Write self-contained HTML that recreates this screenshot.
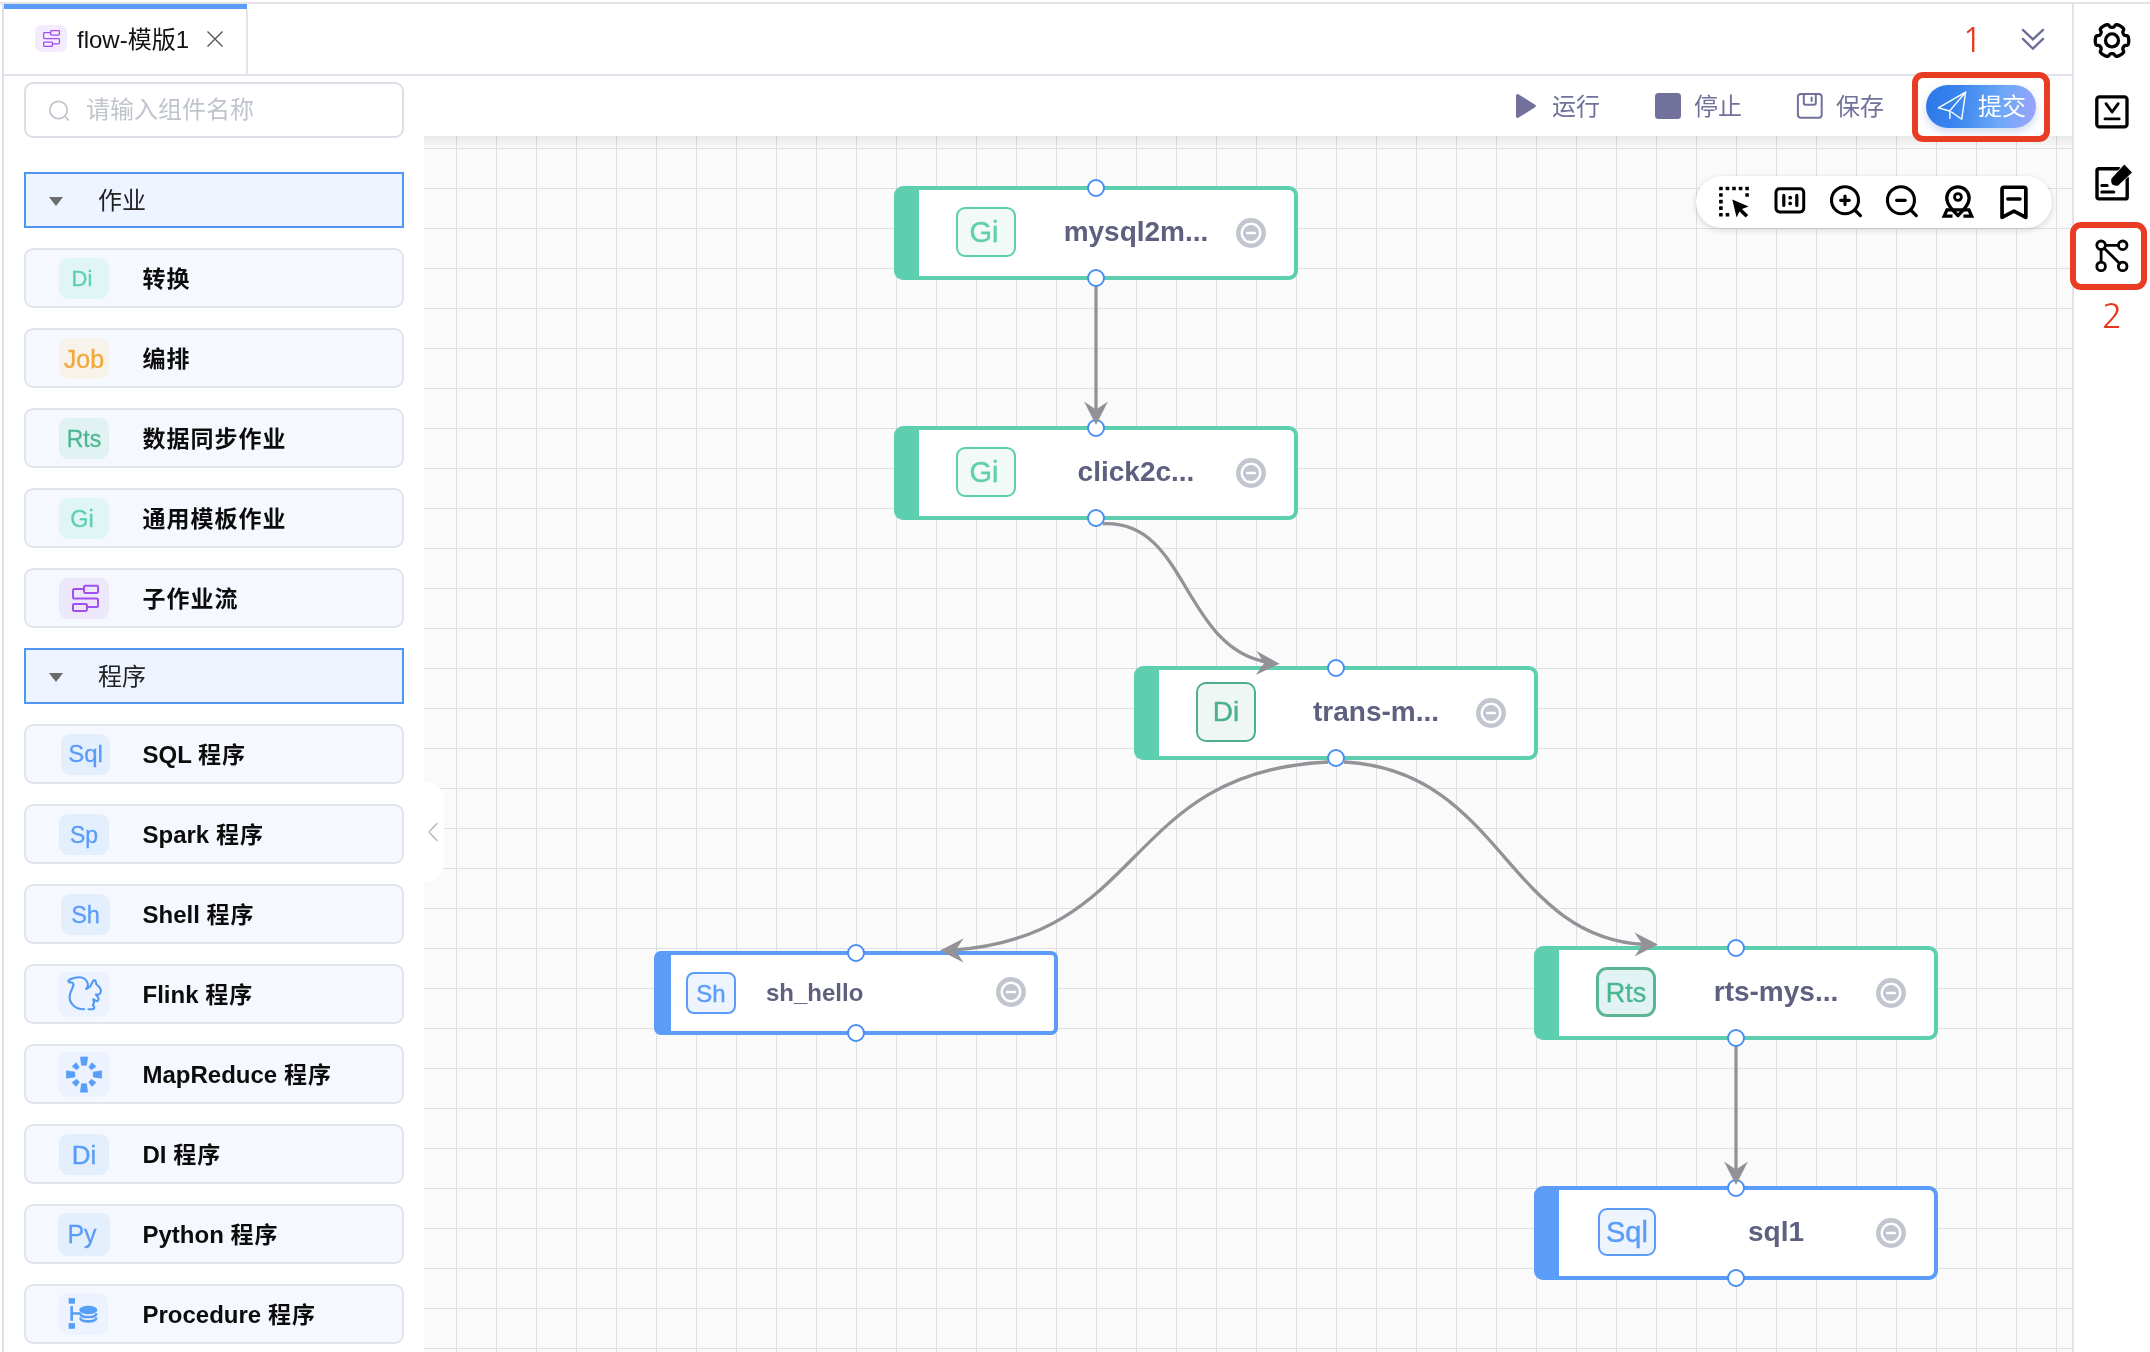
<!DOCTYPE html>
<html lang="zh-CN">
<head>
<meta charset="utf-8">
<title>flow-模版1</title>
<style>
*{box-sizing:border-box;margin:0;padding:0}
html,body{width:2150px;height:1352px;overflow:hidden;background:#fff}
body{position:relative;font-family:"Liberation Sans","Noto Sans CJK SC",sans-serif;color:#1a1a1a}
.abs{position:absolute}
/* frame lines */
#topline{left:0;top:2px;width:2150px;height:2px;background:#e3e3e6}
#leftline{left:2px;top:4px;width:2px;height:1348px;background:#dfdfe6}
#tabbar-b{left:4px;top:74px;width:2069px;height:2px;background:#e1e3ea}
#tab-top{left:4px;top:4px;width:243px;height:5px;background:#5a9cf8}
#tab-r{left:246px;top:9px;width:2px;height:65px;background:#e4e5ea}
#rside-l{left:2072px;top:4px;width:2px;height:1348px;background:#e1e2ea}
/* canvas */
#canvas{left:424px;top:136px;width:1648px;height:1216px;background-color:#fafafa;overflow:hidden;
 background-image:linear-gradient(to right,#dbe0e3 0,#dbe0e3 1px,transparent 1px),linear-gradient(to bottom,#dbe0e3 0,#dbe0e3 1px,transparent 1px);
 background-size:40px 40px;background-position:32px 12px}
#canvas-shadow{left:424px;top:136px;width:1648px;height:12px;background:linear-gradient(to bottom,rgba(0,0,0,.07),rgba(0,0,0,0))}

/* sidebar */
#tabicon{left:35px;top:25px;width:32px;height:27px;border-radius:7px;background:#f4ebfe}
#tabtext{left:77px;top:24px;font-size:24px;line-height:32px;color:#111;white-space:nowrap}
#search{left:24px;top:82px;width:380px;height:56px;border:2px solid #dcdfe6;border-radius:9px;background:#fff}
#search .ph{position:absolute;left:60px;top:0;line-height:51px;font-size:24px;color:#c0c4cc;white-space:nowrap}
.hdr{position:absolute;left:24px;width:380px;height:56px;border:2px solid #4f95f5;background:#eef4ff}
.hdr .tri{position:absolute;left:22.5px;top:23px;width:0;height:0;border-left:7.5px solid transparent;border-right:7.5px solid transparent;border-top:9px solid #6b6b6b}
.hdr .t{position:absolute;left:72px;top:0;line-height:53px;font-size:24px;color:#222}
.item{position:absolute;left:24px;width:380px;height:60px;border:2px solid #e1e4ed;border-radius:9px;background:#f5f9ff}
.item .ic{-webkit-text-stroke:.3px currentColor;position:absolute;left:33px;top:8px;width:50px;height:41px;border-radius:9px;font-size:25px;text-align:center;line-height:42px;white-space:nowrap}
.item .lb{position:absolute;left:116.5px;top:1px;line-height:56px;font-size:24px;font-weight:700;color:#0c0c0c;white-space:nowrap}
.g1{color:#5ecfae;background:#e0f5f5}
.g2{color:#4db690;background:#e0f2f2}
.or{color:#f0a93a;background:#f7f2ea}
.pu{background:#ece7fb}
.bl{color:#5a9cf8;background:#e3effd}
.item .bl2{background:#edf3fe;left:32px;top:6px;width:52px;height:45px;border-radius:10px}
#handle{left:424px;top:782px;width:20px;height:100px;background:#fff;border-radius:0 18px 18px 0}

/* toolbar */
.tbt{position:absolute;top:91px;font-size:24px;line-height:32px;color:#71719b;white-space:nowrap}
#submit{left:1926px;top:85px;width:110px;height:43px;border-radius:22px;background:linear-gradient(100deg,#2a77e8 0%,#3a85ee 30%,#6ea8f7 68%,#9ea3fb 100%);box-shadow:0 4px 9px rgba(90,120,200,.28)}
#submit .t{position:absolute;left:52px;top:6px;font-size:24px;line-height:32px;color:#fff;white-space:nowrap}
.red{position:absolute;border:6px solid #e83c23;border-radius:11px}
.rednum{position:absolute;font-family:"NanumGothic","Liberation Sans",sans-serif;font-weight:400;font-size:33.5px;line-height:40px;color:#e8391f;white-space:nowrap}
#pill{left:1696px;top:176px;width:356px;height:52px;border-radius:26px;background:#fff;box-shadow:0 2px 6px rgba(0,0,0,.14),0 0 2px rgba(0,0,0,.05)}
#ov{left:0;top:0}

/* flow nodes */
.node{position:absolute;width:404px;height:94px;border:4px solid #5ecfae;border-radius:9px;background:#fff}
.node .bar{position:absolute;left:-1px;top:-1px;bottom:-1px;width:22px;background:#5ecfae}
.node .ib{-webkit-text-stroke:.4px currentColor;position:absolute;left:58px;top:16.5px;width:60px;height:50px;border:2px solid #5ecfae;border-radius:9px;background:#f1faf7;color:#5ecfae;font-size:29px;line-height:46px;text-align:center;white-space:nowrap}
.node .nl{position:absolute;left:118px;width:240px;top:0;line-height:83px;text-align:center;font-size:28px;font-weight:700;color:#5e6080;white-space:nowrap}
.node.b{border-color:#5a9cf8}
.node.b .bar{background:#5a9cf8}
.node.b .ib{border-color:#5a9cf8;color:#5a9cf8;background:#edf4fe}
.node.sm{height:84px;border-radius:7px}
.node.sm .bar{width:14px}
.node.sm .ib{left:28px;top:17px;width:50px;height:42px;font-size:24px;line-height:39px;border-radius:8px}
.node.sm .nl{left:108px;width:auto;text-align:left;font-size:24px;line-height:75px}
.port{position:absolute;width:18px;height:18px;border:2px solid #4a90f0;border-radius:50%;background:#fff}
.mc{position:absolute;width:30px;height:30px}
.cj{font-size:23px;letter-spacing:1px;position:relative;top:-.5px}
</style>
</head>
<body><div id="root" style="position:absolute;left:0;top:0;width:2150px;height:1352px;will-change:transform">
<div class="abs" id="topline"></div>
<div class="abs" id="leftline"></div>
<div class="abs" id="tabbar-b"></div>
<div class="abs" id="tab-top"></div>
<div class="abs" id="tab-r"></div>
<div class="abs" id="canvas"></div>
<div class="abs" id="canvas-shadow"></div>
<div class="abs" id="rside-l"></div>
<div class="abs" id="tabicon"></div>
<div class="abs" id="tabtext">flow-模版1</div>
<svg class="abs" style="left:206px;top:30px" width="18" height="18" viewBox="0 0 18 18" stroke="#555" stroke-width="1.4" fill="none"><path d="M1.5 1.5 16.5 16.5M16.5 1.5 1.5 16.5"/></svg>
<div class="abs" id="search"><svg class="abs" style="left:22px;top:15px" width="24" height="24" viewBox="0 0 24 24" fill="none" stroke="#c0c4cc" stroke-width="1.7" stroke-linecap="round"><circle cx="10.5" cy="11" r="8.7"/><path d="M17 17.5 20.5 21"/></svg><div class="ph">请输入组件名称</div></div>
<div class="hdr" style="top:172px"><div class="tri"></div><div class="t">作业</div></div>
<div class="item" style="top:248px"><div class="ic g1" style="font-size:22px;padding-right:4px">Di</div><div class="lb"><span class="cj">转换</span></div></div>
<div class="item" style="top:328px"><div class="ic or">Job</div><div class="lb"><span class="cj">编排</span></div></div>
<div class="item" style="top:408px"><div class="ic g2" style="font-size:23px">Rts</div><div class="lb"><span class="cj">数据同步作业</span></div></div>
<div class="item" style="top:488px"><div class="ic g1" style="font-size:23.500px;padding-right:4px">Gi</div><div class="lb"><span class="cj">通用模板作业</span></div></div>
<div class="item" style="top:568px"><div class="ic pu"></div><div class="lb"><span class="cj">子作业流</span></div></div>
<div class="hdr" style="top:648px"><div class="tri"></div><div class="t">程序</div></div>
<div class="item" style="top:724px"><div class="ic bl" style="font-size:24px;left:35px;width:49px;line-height:40px">Sql</div><div class="lb">SQL <span class="cj">程序</span></div></div>
<div class="item" style="top:804px"><div class="ic bl" style="font-size:23px">Sp</div><div class="lb">Spark <span class="cj">程序</span></div></div>
<div class="item" style="top:884px"><div class="ic bl" style="font-size:23.500px;left:35px;width:49px">Sh</div><div class="lb">Shell <span class="cj">程序</span></div></div>
<div class="item" style="top:964px"><div class="ic bl2"></div><div class="lb">Flink <span class="cj">程序</span></div></div>
<div class="item" style="top:1044px"><div class="ic bl2"></div><div class="lb">MapReduce <span class="cj">程序</span></div></div>
<div class="item" style="top:1124px"><div class="ic bl" style="font-size:26px">Di</div><div class="lb">DI <span class="cj">程序</span></div></div>
<div class="item" style="top:1204px"><div class="ic bl" style="font-size:25px;left:32px;top:6.500px;width:52px;height:43px;line-height:42px;padding-right:4px">Py</div><div class="lb">Python <span class="cj">程序</span></div></div>
<div class="item" style="top:1284px"><div class="ic bl2" style="width:50px;height:42.500px;top:6.500px"></div><div class="lb">Procedure <span class="cj">程序</span></div></div>
<div class="abs" id="handle"><svg class="abs" style="left:3px;top:40px" width="12" height="20" viewBox="0 0 12 20" fill="none" stroke="#b3b3b8" stroke-width="1.3" stroke-linecap="round" stroke-linejoin="round"><path d="M10 1.5 2 10l8 8.5"/></svg></div>
<!--SIDEBAR-END-->
<div class="tbt" style="left:1552px">运行</div>
<div class="tbt" style="left:1694px">停止</div>
<div class="tbt" style="left:1836px">保存</div>
<div class="abs" id="submit"><div class="t">提交</div></div>
<div class="red" style="left:1912px;top:71.5px;width:138px;height:70px"></div>
<div class="rednum" style="left:1962px;top:19.5px">1</div>
<div class="abs" id="pill"></div>
<!--TOOLBAR-END-->
<div class="node " style="left:894px;top:186px"><div class="bar"></div><div class="ib" style="padding-right:4px">Gi</div><div class="nl">mysql2m...</div><svg class="mc" style="left:338px;top:28px" viewBox="0 0 30 30"><circle cx="15" cy="15" r="12.75" fill="none" stroke="#c2c5cf" stroke-width="4.5"/><circle cx="15" cy="15" r="8" fill="#c2c5cf"/><rect x="10" y="13.8" width="10" height="2.4" rx=".6" fill="#fff"/></svg></div>
<div class="node " style="left:894px;top:426px"><div class="bar"></div><div class="ib" style="padding-right:4px">Gi</div><div class="nl">click2c...</div><svg class="mc" style="left:338px;top:28px" viewBox="0 0 30 30"><circle cx="15" cy="15" r="12.75" fill="none" stroke="#c2c5cf" stroke-width="4.5"/><circle cx="15" cy="15" r="8" fill="#c2c5cf"/><rect x="10" y="13.8" width="10" height="2.4" rx=".6" fill="#fff"/></svg></div>
<div class="node " style="left:1134px;top:666px"><div class="bar"></div><div class="ib" style="border-color:#4db08c;color:#4db08c;background:#eff7f4;top:12px;height:60px;line-height:56px;border-radius:10px;font-size:28px">Di</div><div class="nl">trans-m...</div><svg class="mc" style="left:338px;top:28px" viewBox="0 0 30 30"><circle cx="15" cy="15" r="12.75" fill="none" stroke="#c2c5cf" stroke-width="4.5"/><circle cx="15" cy="15" r="8" fill="#c2c5cf"/><rect x="10" y="13.8" width="10" height="2.4" rx=".6" fill="#fff"/></svg></div>
<div class="node b sm" style="left:654px;top:951px"><div class="bar"></div><div class="ib">Sh</div><div class="nl">sh_hello</div><svg class="mc" style="left:338px;top:22px" viewBox="0 0 30 30"><circle cx="15" cy="15" r="12.75" fill="none" stroke="#c2c5cf" stroke-width="4.5"/><circle cx="15" cy="15" r="8" fill="#c2c5cf"/><rect x="10" y="13.8" width="10" height="2.4" rx=".6" fill="#fff"/></svg></div>
<div class="node " style="left:1534px;top:946px"><div class="bar"></div><div class="ib" style="border:3px solid #5bb595;color:#4db690;background:#e2f3f6;line-height:46px;border-radius:11px;font-size:27px">Rts</div><div class="nl">rts-mys...</div><svg class="mc" style="left:338px;top:28px" viewBox="0 0 30 30"><circle cx="15" cy="15" r="12.75" fill="none" stroke="#c2c5cf" stroke-width="4.5"/><circle cx="15" cy="15" r="8" fill="#c2c5cf"/><rect x="10" y="13.8" width="10" height="2.4" rx=".6" fill="#fff"/></svg></div>
<div class="node b" style="left:1534px;top:1186px"><div class="bar"></div><div class="ib" style="left:60px;top:17.500px;width:58px;height:48px;line-height:44px">Sql</div><div class="nl">sql1</div><svg class="mc" style="left:338px;top:28px" viewBox="0 0 30 30"><circle cx="15" cy="15" r="12.75" fill="none" stroke="#c2c5cf" stroke-width="4.5"/><circle cx="15" cy="15" r="8" fill="#c2c5cf"/><rect x="10" y="13.8" width="10" height="2.4" rx=".6" fill="#fff"/></svg></div>
<!--FLOW-END-->
<div class="port" style="left:1087px;top:419px"></div>
<div class="port" style="left:1727px;top:1179px"></div>
<svg class="abs" id="ov" width="2150" height="1352" viewBox="0 0 2150 1352" fill="none">
<path d="M1517.5 95.5 L1534.3 106 L1517.5 116.5 Z" fill="#71719b" stroke="#71719b" stroke-width="3" stroke-linejoin="round"/>
<rect x="1655" y="93" width="26" height="26" rx="3.5" fill="#71719b"/>
<g stroke="#71719b" stroke-width="2" stroke-linecap="round" stroke-linejoin="round"><rect x="1797.9" y="94.1" width="23.8" height="23.6" rx="3"/><path d="M1803.8 94.5V103a1.8 1.8 0 0 0 1.8 1.8h8.4a1.8 1.8 0 0 0 1.8-1.8V94.5M1811.6 97.6V101"/></g>
<g stroke="#fff" stroke-width="1.4" stroke-linecap="round" stroke-linejoin="round"><path d="M1965.6 92.2 1938.4 107.9 1949.6 111"/><path d="M1965.6 92.2 1949.9 110.6V118.2"/><path d="M1951.5 112 1961.7 119.3 1965.6 92.2"/></g>
<g stroke="#6c6c98" stroke-width="2.3" stroke-linecap="round" stroke-linejoin="miter"><path d="M2022.9 29.9 2032.900 39.400 2043 29.900"/><path d="M2022.900 38.900 2032.900 48.700 2043 38.900"/></g>
<g stroke="#000" stroke-width="3" stroke-linecap="round" stroke-linejoin="round">
<rect x="1719.10" y="186.70" width="3.6" height="3.6" rx=".5" fill="#000" stroke="none"/>
<rect x="1725.65" y="186.70" width="3.6" height="3.6" rx=".5" fill="#000" stroke="none"/>
<rect x="1732.20" y="186.70" width="3.6" height="3.6" rx=".5" fill="#000" stroke="none"/>
<rect x="1738.75" y="186.70" width="3.6" height="3.6" rx=".5" fill="#000" stroke="none"/>
<rect x="1745.30" y="186.70" width="3.6" height="3.6" rx=".5" fill="#000" stroke="none"/>
<rect x="1719.10" y="193.25" width="3.6" height="3.6" rx=".5" fill="#000" stroke="none"/>
<rect x="1719.10" y="199.80" width="3.6" height="3.6" rx=".5" fill="#000" stroke="none"/>
<rect x="1719.10" y="206.35" width="3.6" height="3.6" rx=".5" fill="#000" stroke="none"/>
<rect x="1719.10" y="212.90" width="3.6" height="3.6" rx=".5" fill="#000" stroke="none"/>
<rect x="1725.65" y="212.90" width="3.6" height="3.6" rx=".5" fill="#000" stroke="none"/>
<rect x="1745.30" y="193.25" width="3.6" height="3.6" rx=".5" fill="#000" stroke="none"/>
<path d="M1732.3 199.6 1748.6 206.4 1742 208.9 1748.2 215.1 1745.6 217.6 1739.4 211.4 1736.6 217.6Z" fill="#000" stroke="none"/>
<rect x="1776" y="188.7" width="27.7" height="23.2" rx="3.6"/>
<path d="M1783.8 195.400V205.500M1796.800 195.400V205.500" stroke-width="3.2"/>
<circle cx="1790.2" cy="197.700" r="1.850" fill="#000" stroke="none"/><circle cx="1790.200" cy="203.400" r="1.850" fill="#000" stroke="none"/>
<circle cx="1845" cy="200.200" r="13.500" stroke-width="3.100"/><path d="M1854.8 210 1860.400 215.600M1840.700 200.300H1849.300M1845 196V204.600" stroke-width="3.200"/>
<circle cx="1900.95" cy="200.200" r="13.500" stroke-width="3.100"/><path d="M1910.7 210 1916.300 215.600M1896.600 200.300H1905.300" stroke-width="3.200"/>
<path d="M1952.5 216.200H1944.200L1947 209.800H1968.900L1971.700 216.200H1963.400" stroke-width="3.300" stroke-linejoin="miter" stroke-linecap="butt"/>
<path d="M1957.95 215.500C1952.500 210 1946.750 204.500 1946.750 198a11.200 11.200 0 0 1 22.400 0C1969.150 204.500 1963.400 210 1957.950 215.500Z" stroke-width="3.300"/>
<circle cx="1957.95" cy="197" r="3.450" stroke-width="2.800"/>
<path d="M2002.05 217.300V189.250a2 2 0 0 1 2-2h19.800a2 2 0 0 1 2 2V217.300L2013.950 211.100Z" stroke-width="3.700"/><path d="M2007.8 199H2020" stroke-width="3.400"/>
</g>
<g stroke="#000" stroke-width="3.3" stroke-linecap="round" stroke-linejoin="round">
<path d="M2128.70 40.50 L2128.70 40.21 L2128.69 39.92 L2128.68 39.63 L2128.66 39.34 L2128.64 39.04 L2128.61 38.75 L2128.57 38.47 L2128.53 38.18 L2128.49 37.89 L2128.43 37.60 L2128.37 37.32 L2128.29 37.04 L2128.19 36.76 L2128.06 36.50 L2127.87 36.25 L2127.60 36.03 L2127.22 35.85 L2126.72 35.72 L2126.15 35.63 L2125.60 35.55 L2125.12 35.46 L2124.75 35.35 L2124.47 35.21 L2124.25 35.05 L2124.08 34.87 L2123.93 34.68 L2123.79 34.49 L2123.67 34.30 L2123.55 34.10 L2123.43 33.90 L2123.32 33.70 L2123.21 33.50 L2123.10 33.29 L2123.00 33.08 L2122.91 32.86 L2122.85 32.62 L2122.82 32.35 L2122.84 32.03 L2122.93 31.65 L2123.09 31.20 L2123.30 30.68 L2123.50 30.14 L2123.64 29.65 L2123.67 29.23 L2123.62 28.88 L2123.50 28.59 L2123.33 28.35 L2123.14 28.12 L2122.94 27.91 L2122.73 27.72 L2122.50 27.53 L2122.28 27.34 L2122.05 27.16 L2121.82 26.99 L2121.58 26.82 L2121.34 26.66 L2121.10 26.49 L2120.85 26.34 L2120.60 26.19 L2120.35 26.04 L2120.10 25.89 L2119.84 25.75 L2119.58 25.62 L2119.32 25.49 L2119.06 25.37 L2118.79 25.25 L2118.52 25.13 L2118.25 25.02 L2117.98 24.92 L2117.71 24.82 L2117.43 24.73 L2117.15 24.66 L2116.86 24.61 L2116.56 24.59 L2116.25 24.63 L2115.93 24.75 L2115.58 25.00 L2115.22 25.36 L2114.86 25.81 L2114.51 26.25 L2114.20 26.62 L2113.91 26.88 L2113.65 27.05 L2113.40 27.16 L2113.16 27.23 L2112.93 27.26 L2112.69 27.28 L2112.46 27.29 L2112.23 27.30 L2112.00 27.30 L2111.77 27.30 L2111.54 27.29 L2111.31 27.28 L2111.07 27.26 L2110.84 27.23 L2110.60 27.16 L2110.35 27.05 L2110.09 26.88 L2109.80 26.62 L2109.49 26.25 L2109.14 25.81 L2108.78 25.36 L2108.42 25.00 L2108.07 24.75 L2107.75 24.63 L2107.44 24.59 L2107.14 24.61 L2106.85 24.66 L2106.57 24.73 L2106.29 24.82 L2106.02 24.92 L2105.75 25.02 L2105.48 25.13 L2105.21 25.25 L2104.94 25.37 L2104.68 25.49 L2104.42 25.62 L2104.16 25.75 L2103.90 25.89 L2103.65 26.04 L2103.40 26.19 L2103.15 26.34 L2102.90 26.49 L2102.66 26.66 L2102.42 26.82 L2102.18 26.99 L2101.95 27.16 L2101.72 27.34 L2101.50 27.53 L2101.27 27.72 L2101.06 27.91 L2100.86 28.12 L2100.67 28.35 L2100.50 28.59 L2100.38 28.88 L2100.33 29.23 L2100.36 29.65 L2100.50 30.14 L2100.70 30.68 L2100.91 31.20 L2101.07 31.65 L2101.16 32.03 L2101.18 32.35 L2101.15 32.62 L2101.09 32.86 L2101.00 33.08 L2100.90 33.29 L2100.79 33.50 L2100.68 33.70 L2100.57 33.90 L2100.45 34.10 L2100.33 34.30 L2100.21 34.49 L2100.07 34.68 L2099.92 34.87 L2099.75 35.05 L2099.53 35.21 L2099.25 35.35 L2098.88 35.46 L2098.40 35.55 L2097.85 35.63 L2097.28 35.72 L2096.78 35.85 L2096.40 36.03 L2096.13 36.25 L2095.94 36.50 L2095.81 36.76 L2095.71 37.04 L2095.63 37.32 L2095.57 37.60 L2095.51 37.89 L2095.47 38.18 L2095.43 38.47 L2095.39 38.75 L2095.36 39.04 L2095.34 39.34 L2095.32 39.63 L2095.31 39.92 L2095.30 40.21 L2095.30 40.50 L2095.30 40.79 L2095.31 41.08 L2095.32 41.37 L2095.34 41.66 L2095.36 41.96 L2095.39 42.25 L2095.43 42.53 L2095.47 42.82 L2095.51 43.11 L2095.57 43.40 L2095.63 43.68 L2095.71 43.96 L2095.81 44.24 L2095.94 44.50 L2096.13 44.75 L2096.40 44.97 L2096.78 45.15 L2097.28 45.28 L2097.85 45.37 L2098.40 45.45 L2098.88 45.54 L2099.25 45.65 L2099.53 45.79 L2099.75 45.95 L2099.92 46.13 L2100.07 46.32 L2100.21 46.51 L2100.33 46.70 L2100.45 46.90 L2100.57 47.10 L2100.68 47.30 L2100.79 47.50 L2100.90 47.71 L2101.00 47.92 L2101.09 48.14 L2101.15 48.38 L2101.18 48.65 L2101.16 48.97 L2101.07 49.35 L2100.91 49.80 L2100.70 50.32 L2100.50 50.86 L2100.36 51.35 L2100.33 51.77 L2100.38 52.12 L2100.50 52.41 L2100.67 52.65 L2100.86 52.88 L2101.06 53.09 L2101.27 53.28 L2101.50 53.47 L2101.72 53.66 L2101.95 53.84 L2102.18 54.01 L2102.42 54.18 L2102.66 54.34 L2102.90 54.51 L2103.15 54.66 L2103.40 54.81 L2103.65 54.96 L2103.90 55.11 L2104.16 55.25 L2104.42 55.38 L2104.68 55.51 L2104.94 55.63 L2105.21 55.75 L2105.48 55.87 L2105.75 55.98 L2106.02 56.08 L2106.29 56.18 L2106.57 56.27 L2106.85 56.34 L2107.14 56.39 L2107.44 56.41 L2107.75 56.37 L2108.07 56.25 L2108.42 56.00 L2108.78 55.64 L2109.14 55.19 L2109.49 54.75 L2109.80 54.38 L2110.09 54.12 L2110.35 53.95 L2110.60 53.84 L2110.84 53.77 L2111.07 53.74 L2111.31 53.72 L2111.54 53.71 L2111.77 53.70 L2112.00 53.70 L2112.23 53.70 L2112.46 53.71 L2112.69 53.72 L2112.93 53.74 L2113.16 53.77 L2113.40 53.84 L2113.65 53.95 L2113.91 54.12 L2114.20 54.38 L2114.51 54.75 L2114.86 55.19 L2115.22 55.64 L2115.58 56.00 L2115.93 56.25 L2116.25 56.37 L2116.56 56.41 L2116.86 56.39 L2117.15 56.34 L2117.43 56.27 L2117.71 56.18 L2117.98 56.08 L2118.25 55.98 L2118.52 55.87 L2118.79 55.75 L2119.06 55.63 L2119.32 55.51 L2119.58 55.38 L2119.84 55.25 L2120.10 55.11 L2120.35 54.96 L2120.60 54.81 L2120.85 54.66 L2121.10 54.51 L2121.34 54.34 L2121.58 54.18 L2121.82 54.01 L2122.05 53.84 L2122.28 53.66 L2122.50 53.47 L2122.73 53.28 L2122.94 53.09 L2123.14 52.88 L2123.33 52.65 L2123.50 52.41 L2123.62 52.12 L2123.67 51.77 L2123.64 51.35 L2123.50 50.86 L2123.30 50.32 L2123.09 49.80 L2122.93 49.35 L2122.84 48.97 L2122.82 48.65 L2122.85 48.38 L2122.91 48.14 L2123.00 47.92 L2123.10 47.71 L2123.21 47.50 L2123.32 47.30 L2123.43 47.10 L2123.55 46.90 L2123.67 46.70 L2123.79 46.51 L2123.93 46.32 L2124.08 46.13 L2124.25 45.95 L2124.47 45.79 L2124.75 45.65 L2125.12 45.54 L2125.60 45.45 L2126.15 45.37 L2126.72 45.28 L2127.22 45.15 L2127.60 44.97 L2127.87 44.75 L2128.06 44.50 L2128.19 44.24 L2128.29 43.96 L2128.37 43.68 L2128.43 43.40 L2128.49 43.11 L2128.53 42.82 L2128.57 42.53 L2128.61 42.25 L2128.64 41.96 L2128.66 41.66 L2128.68 41.37 L2128.69 41.08 L2128.70 40.79Z"/>
<circle cx="2112" cy="40.4" r="6.5"/>
<rect x="2096.8" y="96.8" width="30.2" height="30.1" rx="2.6"/><path d="M2106 103.700 2112.100 112 2118.200 103.700M2105 118.9H2119.200" stroke-width="2.9"/>
<path d="M2127.2 178V197.200a1.700 1.700 0 0 1-1.700 1.700H2098.700a1.700 1.700 0 0 1-1.700-1.700V170.400a1.700 1.700 0 0 1 1.700-1.700H2119" stroke-width="3.4"/>
<path d="M2101.8 185.400H2107.200M2101.800 191.900H2113.800" stroke-width="3"/>
<path d="M2111.8 178.300 2124.300 164.500 2132 172.400 2118.100 185.500Q2116.500 186.300 2112.300 184.500Q2110.300 181 2111.800 178.300Z" fill="#000" stroke="#fff" stroke-width="1.3" stroke-linejoin="miter" paint-order="stroke"/>
<g stroke-width="2.8"><circle cx="2101.1" cy="245.3" r="4.3"/><circle cx="2122.7" cy="245.3" r="4.3"/><circle cx="2101.1" cy="266.4" r="4.3"/><circle cx="2122.7" cy="266.4" r="4.3"/><path d="M2105.4 245.3H2118.400M2101.100 249.600V262.100M2104.200 248.300 2119.700 263.400"/></g>
</g>
<g fill="none" stroke="#a04ff0" stroke-width="2" stroke-linejoin="round" stroke-linecap="round"><rect x="84.05" y="585.86" width="13.97" height="7.1" rx="1.1"/><rect x="72.96" y="604.05" width="13.97" height="6.88" rx="1.1"/><path d="M84.05 589.100H74.300a1.300 1.300 0 0 0-1.300 1.300V597.300a1.300 1.300 0 0 0 1.300 1.300H96.700a1.300 1.300 0 0 1 1.300 1.300V605.700a1.300 1.300 0 0 1-1.300 1.300H86.930"/></g>
<g fill="none" stroke="#a04ff0" stroke-width="2" stroke-linejoin="round" stroke-linecap="round" transform="translate(43 29.900) scale(0.632) translate(-71.960 -584.860)"><rect x="84.05" y="585.86" width="13.97" height="7.1" rx="1.1"/><rect x="72.96" y="604.05" width="13.97" height="6.88" rx="1.1"/><path d="M84.05 589.100H74.300a1.300 1.300 0 0 0-1.300 1.300V597.300a1.300 1.300 0 0 0 1.300 1.300H96.700a1.300 1.300 0 0 1 1.300 1.300V605.700a1.300 1.300 0 0 1-1.300 1.300H86.930"/></g>
<g fill="none" stroke="#519af4" stroke-width="2.1" stroke-linecap="round" stroke-linejoin="round"><path d="M73.46 984.15C73.27 983.90 73.01 982.94 72.31 982.62C71.60 982.29 69.88 982.52 69.23 982.23C68.58 981.94 68.26 981.33 68.38 980.88C68.51 980.44 69.22 979.97 70.00 979.54C70.78 979.11 71.60 978.69 73.08 978.31C74.55 977.92 77.05 977.22 78.85 977.23C80.64 977.24 82.50 977.68 83.85 978.38C85.19 979.09 86.25 980.31 86.92 981.46C87.60 982.62 88.01 984.03 87.88 985.31C87.76 986.59 86.44 988.51 86.15 989.15L86.15 989.15C86.79 988.71 88.97 987.55 90.00 986.46C91.03 985.37 91.67 983.65 92.31 982.62C92.95 981.58 93.27 980.42 93.85 980.23C94.42 980.04 95.35 980.81 95.77 981.46C96.19 982.12 95.77 983.26 96.35 984.15C96.92 985.05 98.48 985.82 99.23 986.85C99.98 987.87 100.65 989.28 100.85 990.31C101.04 991.33 100.78 992.29 100.38 993.00C99.99 993.71 99.23 994.27 98.46 994.54C97.69 994.81 96.22 994.60 95.77 994.62L95.77 994.62C96.15 995.05 97.62 996.41 98.08 997.23C98.54 998.05 98.73 998.90 98.54 999.54C98.35 1000.18 97.80 1001.13 96.92 1001.08C96.04 1001.03 93.88 999.54 93.27 999.23L93.27 999.23C93.38 999.79 93.97 1001.60 93.92 1002.62C93.88 1003.63 92.94 1004.54 93.00 1005.31C93.06 1006.08 94.23 1006.60 94.31 1007.23C94.38 1007.86 94.44 1008.74 93.46 1009.08C92.49 1009.41 89.29 1009.21 88.46 1009.23"/><path d="M84.23 1009.23C83.40 1009.15 80.83 1009.23 79.23 1008.77C77.63 1008.31 75.96 1007.49 74.62 1006.46C73.27 1005.44 71.99 1004.03 71.15 1002.62C70.32 1001.21 69.74 999.60 69.62 998.00C69.49 996.40 69.87 994.79 70.38 993.00C70.90 991.21 72.18 988.71 72.69 987.23C73.21 985.76 73.33 984.67 73.46 984.15"/></g>
<g fill="#579ef6" stroke="#579ef6" stroke-width="0.6" stroke-linejoin="round"><path d="M93.24 1077.04L101.64 1078.24L101.64 1070.84L93.24 1072.04Z"/><path d="M81.54 1083.74L80.34 1092.14L87.74 1092.14L86.54 1083.74Z"/><path d="M74.84 1072.04L66.44 1070.84L66.44 1078.24L74.84 1077.04Z"/><path d="M86.54 1065.34L87.74 1056.94L80.34 1056.94L81.54 1065.34Z"/><path d="M88.71 1081.89L92.03 1086.49L95.99 1082.53L91.39 1079.21Z"/><path d="M76.69 1079.21L72.09 1082.53L76.05 1086.49L79.37 1081.89Z"/><path d="M79.37 1067.19L76.05 1062.59L72.09 1066.55L76.69 1069.87Z"/><path d="M91.39 1069.87L95.99 1066.55L92.03 1062.59L88.71 1067.19Z"/></g>
<g fill="#579ef6"><rect x="68.65" y="1298.1" width="6.35" height="5.6"/><rect x="68.65" y="1323.1" width="6.35" height="5.7"/><rect x="70.3" y="1306.1" width="2.7" height="14.7"/><rect x="72.9" y="1312.2" width="7.6" height="2.5"/><ellipse cx="88.27" cy="1309.9" rx="9.04" ry="4.25"/></g><g fill="none" stroke="#579ef6" stroke-width="2.6" stroke-linecap="round"><path d="M80.5 1314.3A7.85 3.1 0 0 0 96.1 1314.3"/><path d="M80.5 1318.6A7.85 3.1 0 0 0 96.1 1318.6"/></g>
<g stroke="#929297" stroke-width="3.3" fill="none">
<path d="M1096 286V410"/>
<path d="M1736 1046V1170"/>
<path d="M1103 523.800C1188 519.600 1181.600 647.600 1268 662.500"/>
<path d="M1328 762C1123.400 771.500 1147.600 936.700 953 950"/>
<path d="M1344 762C1501.700 770 1506 937.800 1645 944.500"/>
</g>
<g fill="#929297">
<path d="M1096 425 1084 401.500 1096 409.500 1108 401.500Z"/>
<path d="M1736 1185 1724 1161.500 1736 1169.500 1748 1161.500Z"/>
<path d="M0 0-23.500-12-15.500 0-23.500 12Z" transform="translate(1279.600 663.800) rotate(2)"/>
<path d="M0 0-23.500-12-15.500 0-23.500 12Z" transform="translate(940 950.400) rotate(180)"/>
<path d="M0 0-23.500-12-15.500 0-23.500 12Z" transform="translate(1658 944.500) rotate(0)"/>
</g>
</svg>
<div class="red" style="left:2070px;top:221.5px;width:77px;height:68px"></div>
<div class="rednum" style="left:2102px;top:295.500px">2</div>
<div class="port" style="left:1087px;top:179px"></div>
<div class="port" style="left:1087px;top:269px"></div>
<div class="port" style="left:1087px;top:509px"></div>
<div class="port" style="left:1327px;top:659px"></div>
<div class="port" style="left:1327px;top:749px"></div>
<div class="port" style="left:847px;top:944px"></div>
<div class="port" style="left:847px;top:1024px"></div>
<div class="port" style="left:1727px;top:939px"></div>
<div class="port" style="left:1727px;top:1029px"></div>
<div class="port" style="left:1727px;top:1269px"></div>
<!--RIGHT-END-->
</div></body>
</html>
